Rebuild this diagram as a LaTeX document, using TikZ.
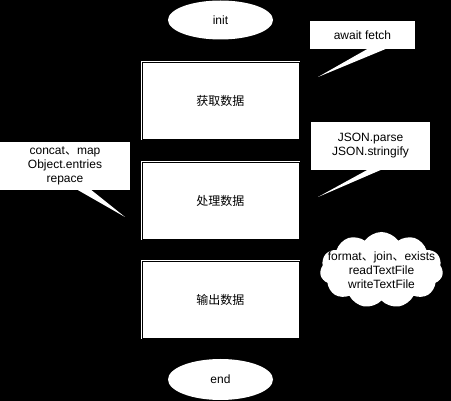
\documentclass[tikz,border=0pt]{standalone}
\usepackage{fontspec}
\setmainfont{Liberation Sans}
\newfontfamily\cjk{Noto Sans CJK SC}
\usetikzlibrary{shapes.geometric,shapes.symbols}
\begin{document}
\begin{tikzpicture}[x=1pt,y=-1pt,
  every node/.style={font=\fontsize{12}{14}\selectfont, inner sep=0pt},
  stepbox/.style={rectangle, fill=white, draw=white, double=black, line width=0.6pt, double distance=0.8pt, minimum width=157pt, minimum height=77pt},
  term/.style={ellipse, fill=white, minimum width=105pt, minimum height=39pt},
  note/.style={rectangle, fill=white, align=center},
  bubble/.style={fill=white}
]
\fill[black] (0,0) rectangle (451,401);
\useasboundingbox (0,0) rectangle (451,401);

\node[term] (init) at (220.5,20) {init};
\node[stepbox] (s1) at (220.5,100.5) {\cjk 获取数据};
\node[stepbox] (s2) at (220.5,200.5) {\cjk 处理数据};
\node[stepbox] (s3) at (220.5,300) {\cjk 输出数据};
\node[term, minimum height=41pt] (end) at (220.5,379.5) {end};

% await fetch callout
\node[note, minimum width=105pt, minimum height=28pt] (c1) at (362.5,35) {await fetch};
\coordinate (c1tip) at (318,77);
\fill[bubble] (369,48) -- (388,48) -- (c1tip) -- cycle;

% JSON callout
\node[note, minimum width=119pt, minimum height=48pt] (c2) at (370.5,146) {JSON.parse\\JSON.stringify};
\coordinate (c2tip) at (318,197);
\fill[bubble] (369,169) -- (383,169) -- (c2tip) -- cycle;

% left callout
\node[note, minimum width=130pt, minimum height=48pt] (c3) at (65,166) {concat{\cjk 、}map\\Object.entries\\repace};
\coordinate (c3tip) at (125,217);
\fill[bubble] (76,189) -- (90,189) -- (c3tip) -- cycle;

% cloud
\node[cloud, fill=white, cloud puffs=11, cloud puff arc=110, aspect=1.7, minimum width=123pt, minimum height=76pt, align=center] (cl) at (381.5,270) {};
\node[align=center] (clt) at (381.5,270) {format{\cjk 、}join{\cjk 、}exists\\readTextFile\\writeTextFile};
\end{tikzpicture}
\end{document}
